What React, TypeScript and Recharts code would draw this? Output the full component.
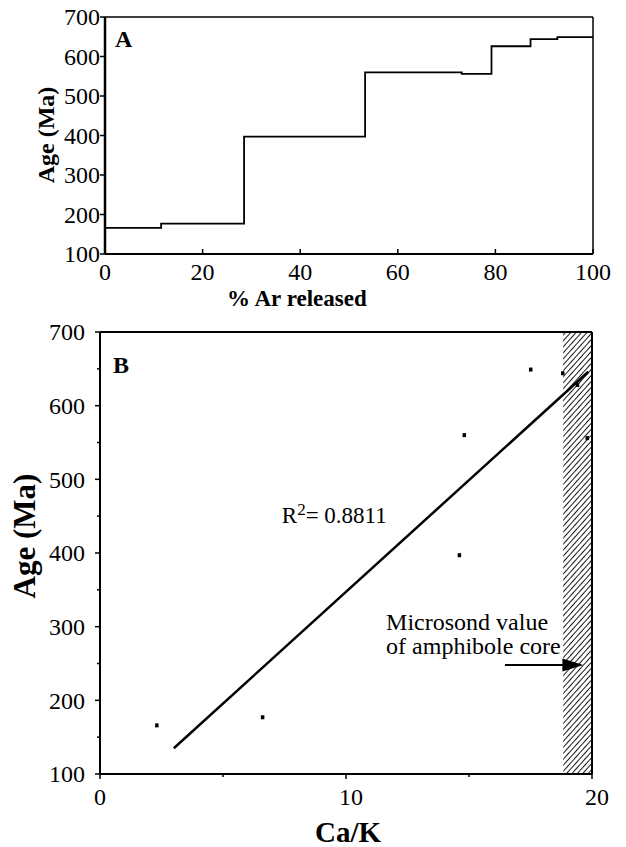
import React from 'react';
import {
  LineChart,
  Line,
  XAxis,
  YAxis,
  ReferenceLine,
  ReferenceArea,
  ReferenceDot,
  ScatterChart,
  Scatter,
} from 'recharts';

const FONT = 'Liberation Serif, DejaVu Serif, serif';

// ---- Panel A: age spectrum (step start % Ar released, age in Ma)
const stepStart = [0, 11.5, 28.5, 53.3, 73.1, 79.2, 87.2, 92.7, 100];
const stepAge = [166, 177, 397, 560, 556, 626, 644, 649, 649];
const xTicksA = [0, 20, 40, 60, 80, 100];
const yTicksA = [100, 200, 300, 400, 500, 600, 700];

// ---- Panel B: age vs Ca/K
const caK = [2.3, 6.6, 14.6, 14.8, 17.5, 18.8, 19.4, 19.8];
const ageB = [166, 177, 397, 560, 649, 644, 628, 556];
const fitCaK = [3.0, 19.85];
const fitAge = [135, 646];
const xTicksB = [0, 5, 10, 15, 20];
const xLabelsB = [0, 10, 20];
const yTicksB = [100, 150, 200, 250, 300, 350, 400, 450, 500, 550, 600, 650, 700];
const yLabelsB = [100, 200, 300, 400, 500, 600, 700];
const hatchFrom = 18.83;
const arrowFrom = 16.46;
const arrowTip = 19.65;
const arrowAge = 248;

const dataA = stepStart.map((p, i) => ({ pct: p, age: stepAge[i] }));
const dataB = caK.map((c, i) => ({ x: c, y: ageB[i] }));

const txt = (size: number, bold = false): React.CSSProperties => ({
  fontFamily: FONT,
  fontSize: size,
  fontWeight: bold ? 'bold' : 'normal',
  fill: '#000',
});

const XTickA = (p: any) => {
  const { x, y, payload } = p;
  return (
    <g>
      <line x1={x} x2={x} y1={y} y2={y - 5} stroke="#000" strokeWidth={1.5} />
      <text x={x} y={y + 26} textAnchor="middle" style={txt(24)}>
        {payload.value}
      </text>
    </g>
  );
};

const YTickA = (p: any) => {
  const { x, y, payload } = p;
  return (
    <g>
      <line x1={x} x2={x - 5} y1={y} y2={y} stroke="#000" strokeWidth={1.5} />
      <text x={x - 5} y={y} dy="0.35em" textAnchor="end" style={txt(24)}>
        {payload.value}
      </text>
    </g>
  );
};

const XTickB = (p: any) => {
  const { x, y, payload } = p;
  const major = xLabelsB.includes(payload.value);
  return (
    <g>
      <line x1={x} x2={x} y1={y} y2={y + (major ? 5 : 3)} stroke="#000" strokeWidth={1.5} />
      {major && (
        <text x={x + (payload.value > 0 ? 5 : 0)} y={y + 31} textAnchor="middle" style={txt(24)}>
          {payload.value}
        </text>
      )}
    </g>
  );
};

const YTickB = (p: any) => {
  const { x, y, payload } = p;
  const major = yLabelsB.includes(payload.value);
  return (
    <g>
      <line x1={x} x2={x - (major ? 5 : 3)} y1={y} y2={y} stroke="#000" strokeWidth={1.5} />
      {major && (
        <text x={x - 15} y={y} dy="0.35em" textAnchor="end" style={txt(24)}>
          {payload.value}
        </text>
      )}
    </g>
  );
};

const TitleXA = () => (
  <text x={227} y={306} style={txt(23, true)}>
    % Ar released
  </text>
);
const TitleYA = () => (
  <text x={54} y={135} transform="rotate(-90, 54, 135)" textAnchor="middle" style={txt(24, true)}>
    Age (Ma)
  </text>
);
const TitleXB = () => (
  <text x={315} y={522} style={txt(29, true)}>
    Ca/K
  </text>
);
const TitleYB = () => (
  <text x={35} y={216} transform="rotate(-90, 35, 216)" textAnchor="middle" style={txt(31, true)}>
    Age (Ma)
  </text>
);

const PanelLetter = (letter: string) => (p: any) => (
  <text x={p.cx} y={p.cy} style={txt(24, true)}>
    {letter}
  </text>
);

const RText = (p: any) => (
  <text x={p.cx} y={p.cy} style={txt(23)}>
    <tspan>R</tspan>
    <tspan dy={-8} style={{ fontSize: 17 }}>2</tspan>
    <tspan dy={8}>= 0.8811</tspan>
  </text>
);

const NoteText = (p: any) => (
  <text x={p.cx} y={p.cy} style={txt(24)}>
    <tspan x={p.cx}>Microsond value</tspan>
    <tspan x={p.cx} dy={24}>of amphibole core</tspan>
  </text>
);

const ArrowHead = (p: any) => (
  <polygon
    points={`${p.cx},${p.cy} ${p.cx - 21},${p.cy - 6.5} ${p.cx - 21},${p.cy + 6.5}`}
    fill="#000"
  />
);

const Pt = (p: any) => <rect x={p.cx - 1.5} y={p.cy - 2} width={3.5} height={4} fill="#000" />;

export default function App() {
  return (
    <div style={{ position: 'absolute', left: 0, top: 0, width: 626, height: 847, background: '#fff' }}>
      <LineChart width={626} height={320} data={dataA} margin={{ top: 17, right: 33, left: 0, bottom: 0 }}>
        <XAxis
          type="number"
          dataKey="pct"
          domain={[0, 100]}
          ticks={xTicksA}
          interval={0}
          height={66}
          tickSize={0}
          tickMargin={0}
          tickLine={false}
          axisLine={{ stroke: '#000', strokeWidth: 2 }}
          tick={XTickA}
          label={<TitleXA />}
        />
        <YAxis
          type="number"
          domain={[100, 700]}
          ticks={yTicksA}
          interval={0}
          width={105}
          tickSize={0}
          tickMargin={0}
          tickLine={false}
          axisLine={{ stroke: '#000', strokeWidth: 2.5 }}
          tick={YTickA}
          label={<TitleYA />}
        />
        <ReferenceLine y={700} stroke="#000" strokeWidth={1.5} />
        <ReferenceLine x={100} stroke="#000" strokeWidth={1.5} />
        <Line
          type="stepAfter"
          dataKey="age"
          stroke="#000"
          strokeWidth={1.8}
          dot={false}
          isAnimationActive={false}
        />
        <ReferenceDot x={2.05} y={624} r={0} shape={PanelLetter('A')} />
      </LineChart>

      <ScatterChart width={626} height={527} margin={{ top: 12, right: 34, left: 0, bottom: 0 }}>
        <defs>
          <pattern id="hatchB" patternUnits="userSpaceOnUse" width={4} height={4} patternTransform="rotate(42)">
            <line x1={0} y1={0} x2={0} y2={4} stroke="#000" strokeWidth={1.8} />
          </pattern>
        </defs>
        <XAxis
          type="number"
          dataKey="x"
          domain={[0, 20]}
          ticks={xTicksB}
          interval={0}
          height={73}
          tickSize={0}
          tickMargin={0}
          tickLine={false}
          axisLine={{ stroke: '#000', strokeWidth: 2 }}
          tick={XTickB}
          label={<TitleXB />}
        />
        <YAxis
          type="number"
          dataKey="y"
          domain={[100, 700]}
          ticks={yTicksB}
          interval={0}
          width={100}
          tickSize={0}
          tickMargin={0}
          tickLine={false}
          axisLine={{ stroke: '#000', strokeWidth: 2 }}
          tick={YTickB}
          label={<TitleYB />}
        />
        <ReferenceArea x1={hatchFrom} x2={20} y1={100} y2={700} fill="url(#hatchB)" fillOpacity={1} stroke="none" />
        <ReferenceLine y={700} stroke="#000" strokeWidth={2} />
        <ReferenceLine x={20} stroke="#000" strokeWidth={2} />
        <ReferenceLine
          segment={[
            { x: fitCaK[0], y: fitAge[0] },
            { x: fitCaK[1], y: fitAge[1] },
          ]}
          stroke="#000"
          strokeWidth={2.5}
        />
        <ReferenceLine
          segment={[
            { x: arrowFrom, y: arrowAge },
            { x: arrowTip - 0.7, y: arrowAge },
          ]}
          stroke="#000"
          strokeWidth={2}
        />
        <ReferenceDot x={arrowTip} y={arrowAge} r={0} shape={ArrowHead} />
        <Scatter data={dataB} fill="#000" shape={Pt} isAnimationActive={false} />
        <ReferenceDot x={0.53} y={644} r={0} shape={PanelLetter('B')} />
        <ReferenceDot x={7.39} y={441} r={0} shape={RText} />
        <ReferenceDot x={11.63} y={295.4} r={0} shape={NoteText} />
      </ScatterChart>
    </div>
  );
}
